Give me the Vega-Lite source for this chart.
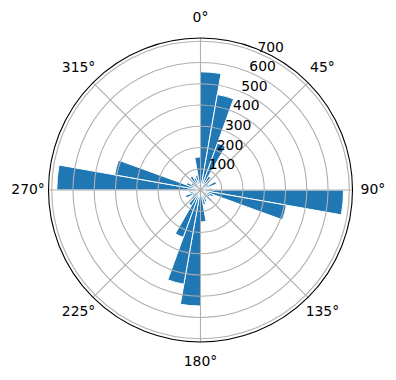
{
  "$schema": "https://vega.github.io/schema/vega-lite/v6.json",
  "width": 391,
  "height": 380,
  "autosize": "none",
  "padding": {"left": 5, "top": 0, "right": 0, "bottom": 0},
  "background": "white",
  "config": {"view": {"stroke": null}},
  "datasets": {
    "bars": [
      {"dir": 0, "dir_end": 10, "val": 556},
      {"dir": 10, "dir_end": 20, "val": 456},
      {"dir": 20, "dir_end": 30, "val": 235},
      {"dir": 30, "dir_end": 40, "val": 75},
      {"dir": 40, "dir_end": 50, "val": 60},
      {"dir": 50, "dir_end": 60, "val": 45},
      {"dir": 60, "dir_end": 70, "val": 80},
      {"dir": 70, "dir_end": 80, "val": 40},
      {"dir": 80, "dir_end": 90, "val": 55},
      {"dir": 90, "dir_end": 100, "val": 673},
      {"dir": 100, "dir_end": 110, "val": 410},
      {"dir": 110, "dir_end": 120, "val": 65},
      {"dir": 120, "dir_end": 130, "val": 50},
      {"dir": 130, "dir_end": 140, "val": 70},
      {"dir": 140, "dir_end": 150, "val": 45},
      {"dir": 150, "dir_end": 160, "val": 60},
      {"dir": 160, "dir_end": 170, "val": 70},
      {"dir": 170, "dir_end": 180, "val": 150},
      {"dir": 180, "dir_end": 190, "val": 546},
      {"dir": 190, "dir_end": 200, "val": 450},
      {"dir": 200, "dir_end": 210, "val": 237},
      {"dir": 210, "dir_end": 220, "val": 85},
      {"dir": 220, "dir_end": 230, "val": 55},
      {"dir": 230, "dir_end": 240, "val": 45},
      {"dir": 240, "dir_end": 250, "val": 75},
      {"dir": 250, "dir_end": 260, "val": 50},
      {"dir": 260, "dir_end": 270, "val": 55},
      {"dir": 270, "dir_end": 280, "val": 676},
      {"dir": 280, "dir_end": 290, "val": 410},
      {"dir": 290, "dir_end": 300, "val": 70},
      {"dir": 300, "dir_end": 310, "val": 50},
      {"dir": 310, "dir_end": 320, "val": 45},
      {"dir": 320, "dir_end": 330, "val": 75},
      {"dir": 330, "dir_end": 340, "val": 60},
      {"dir": 340, "dir_end": 350, "val": 70},
      {"dir": 350, "dir_end": 360, "val": 155}
    ],
    "rings": [
      {"r": 100}, {"r": 200}, {"r": 300}, {"r": 400}, {"r": 500}, {"r": 600}, {"r": 700}
    ],
    "spokes": [
      {"a": 0, "label": "0°"}, {"a": 45, "label": "45°"}, {"a": 90, "label": "90°"},
      {"a": 135, "label": "135°"}, {"a": 180, "label": "180°"}, {"a": 225, "label": "225°"},
      {"a": 270, "label": "270°"}, {"a": 315, "label": "315°"}
    ]
  },
  "layer": [
    {
      "data": {"name": "bars"},
      "mark": {"type": "arc", "fill": "#1f77b4", "stroke": "white", "strokeWidth": 1},
      "encoding": {
        "theta": {"field": "dir", "type": "quantitative", "stack": null,
          "scale": {"type": "linear", "domain": [0, 360], "range": [0, 6.283185307]}},
        "theta2": {"field": "dir_end"},
        "radius": {"field": "val", "type": "quantitative",
          "scale": {"type": "linear", "domain": [0, 715], "range": [0, 152], "zero": true, "nice": false}},
        "radius2": {"datum": 0}
      }
    },
    {
      "data": {"name": "rings"},
      "mark": {"type": "arc", "fill": null, "filled": false, "stroke": "#b0b0b0", "strokeWidth": 1.1},
      "encoding": {
        "theta": {"datum": 0, "type": "quantitative", "stack": null},
        "theta2": {"datum": 360},
        "radius": {"field": "r", "type": "quantitative"},
        "radius2": {"field": "r"}
      }
    },
    {
      "data": {"name": "spokes"},
      "mark": {"type": "arc", "fill": null, "filled": false, "stroke": "#b0b0b0", "strokeWidth": 1.1},
      "encoding": {
        "theta": {"field": "a", "type": "quantitative", "stack": null},
        "theta2": {"field": "a"},
        "radius": {"datum": 715, "type": "quantitative"},
        "radius2": {"datum": 0}
      }
    },
    {
      "data": {"values": [{"outer": 715}]},
      "mark": {"type": "arc", "fill": null, "filled": false, "stroke": "black", "strokeWidth": 1.1},
      "encoding": {
        "theta": {"datum": 0, "type": "quantitative", "stack": null},
        "theta2": {"datum": 360},
        "radius": {"field": "outer", "type": "quantitative"},
        "radius2": {"field": "outer"}
      }
    },
    {
      "data": {"name": "rings"},
      "mark": {"type": "text", "align": "left", "baseline": "alphabetic", "dy": -1,
        "font": "DejaVu Sans", "fontSize": 13.9, "color": "black"},
      "encoding": {
        "theta": {"datum": 22.5, "type": "quantitative", "stack": null},
        "radius": {"field": "r", "type": "quantitative"},
        "text": {"field": "r", "type": "quantitative", "format": "d"}
      }
    },
    {
      "data": {"name": "spokes"},
      "mark": {"type": "text", "align": "center", "baseline": "middle",
        "font": "DejaVu Sans", "fontSize": 13.9, "color": "black"},
      "encoding": {
        "theta": {"field": "a", "type": "quantitative", "stack": null},
        "radius": {"datum": 811, "type": "quantitative"},
        "text": {"field": "label", "type": "nominal"}
      }
    }
  ]
}
